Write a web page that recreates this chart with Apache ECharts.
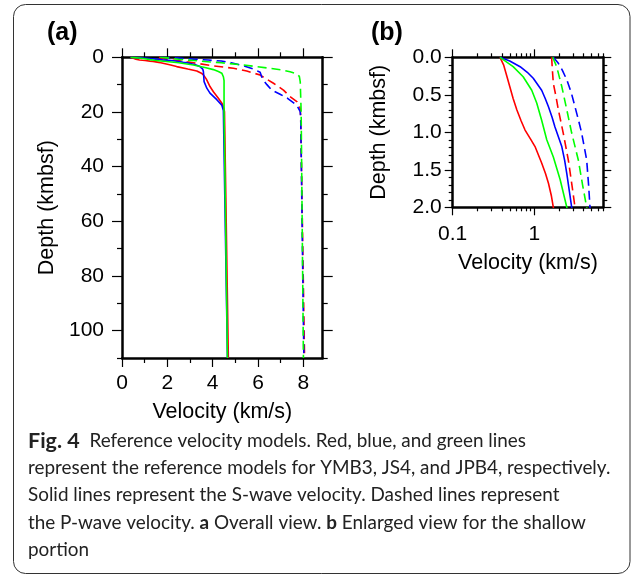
<!DOCTYPE html>
<html>
<head>
<meta charset="utf-8">
<script src="https://cdn.jsdelivr.net/npm/echarts@6.0.0/dist/echarts.min.js"></script>
<style>
  html, body { margin: 0; padding: 0; background: #fff; }
  #myChart { width: 635px; height: 577px; }
</style>
</head>
<body>
<div id="myChart"></div>
<script>
// [velocity (km/s), depth (kmbsf)]
var ymb3S = [[0.38,0],[0.42,0.1],[0.46,0.25],[0.50,0.39],[0.55,0.55],[0.61,0.70],[0.69,0.85],[0.77,0.97],[0.90,1.09],[1.02,1.19],[1.23,1.41],[1.37,1.55],[1.49,1.68],[1.62,1.85],[1.71,2.0],[2.1,2.7],[2.41,3.4],[2.9,4.3],[3.3,5.0],[3.5,5.8],[3.6,6.5],[3.72,8],[3.88,10.7],[4.03,12.6],[4.25,15],[4.42,17],[4.5,19],[4.52,20],[4.69,110]];
var js4S = [[0.38,0],[0.50,0.05],[0.67,0.125],[0.82,0.2],[0.97,0.28],[1.23,0.44],[1.36,0.55],[1.49,0.66],[1.65,0.8],[1.79,0.93],[2.17,1.19],[2.35,1.37],[2.50,1.55],[2.70,1.8],[2.87,2.0],[3.2,2.6],[3.44,3.4],[3.56,4.3],[3.59,5.3],[3.62,8.9],[3.74,11.3],[3.88,13.1],[4.18,15.5],[4.4,17.5],[4.47,19.5],[4.5,20],[4.65,110]];
var jpb4S = [[0.38,0],[0.55,0.125],[0.73,0.26],[0.93,0.44],[1.07,0.61],[1.23,0.84],[1.42,1.10],[1.71,1.33],[2.07,1.63],[2.50,2.0],[3.15,2.8],[3.7,3.8],[4.03,4.5],[4.25,5.2],[4.4,5.8],[4.47,7.1],[4.5,8.5],[4.5,20],[4.65,110]];
var ymb3P = [[1.63,0],[1.66,0.15],[1.71,0.35],[1.84,0.52],[1.97,0.70],[2.26,1.01],[2.61,1.37],[2.87,1.68],[3.15,2.0],[3.9,3.0],[4.91,4.0],[5.5,5.0],[6.09,6.5],[6.68,9.5],[7.12,12],[7.41,14.4],[7.71,16.2],[7.82,17.4],[7.86,19],[7.88,22],[8.05,110]];
var js4P = [[1.71,0],[1.97,0.08],[2.2,0.17],[2.50,0.30],[2.85,0.48],[3.15,0.66],[3.50,0.85],[3.80,1.01],[4.1,1.2],[4.38,1.37],[4.62,1.7],[4.81,2.0],[5.3,3.0],[5.8,4.3],[6.09,5.5],[6.2,8],[6.39,10],[6.6,12],[6.97,13.5],[7.3,15],[7.71,17.5],[7.86,19.9],[7.88,22],[8.02,110]];
var jpb4P = [[1.68,0],[1.88,0.125],[2.17,0.39],[2.50,0.70],[2.87,1.01],[3.46,1.37],[3.9,1.7],[4.38,2.0],[5.35,2.8],[6.5,4],[7.1,4.7],[7.41,5.3],[7.7,6.0],[7.82,7],[7.86,9],[7.9,20],[8.0,110]];

// tick labels
var velTicksA = [0, 2, 4, 6, 8];
var velMinorA = [1, 3, 5, 7];
var depthTicksA = [0, 20, 40, 60, 80, 100];
var depthMinorA = [10, 30, 50, 70, 90, 110];
var velTicksB = [0.1, 1];
var velMinorB = [0.2, 0.3, 0.4, 0.5, 0.6, 0.7, 0.8, 0.9, 2, 3, 4, 5, 6, 7];

var FONT = 'Liberation Sans, Arial, Helvetica, sans-serif';
var CAP_FONT = 'Lato, "Open Sans", sans-serif';
var colors = { ymb3: '#ff0000', js4: '#0000ff', jpb4: '#00ff00' };

var logMax = Math.log10(7);
function log10All(arr) { return arr.map(function (v) { return Math.log10(v); }); }

// one axis; frame line / ticks / labels switched on by what is passed in
function ax(grid, pos, type, min, max, o) {
  o = o || {};
  return {
    gridIndex: grid, position: pos, type: type, min: min, max: max,
    inverse: !!o.inverse,
    interval: o.interval,
    axisLine: { show: !!o.line, onZero: false, lineStyle: { color: '#000', width: 2.5 } },
    axisTick: o.ticks ? { show: true, inside: false, length: o.len, customValues: o.ticks, lineStyle: { color: '#000', width: 1.2 } } : { show: false },
    minorTick: o.minor ? { show: true, splitNumber: o.minor, length: 4, lineStyle: { color: '#000', width: 1.2 } } : { show: false },
    axisLabel: o.label ? Object.assign({ show: true, color: '#000', fontFamily: FONT, fontSize: 21 }, o.label) : { show: false },
    name: o.name || '',
    nameLocation: 'middle',
    nameGap: o.nameGap,
    nameTextStyle: { color: '#000', fontFamily: FONT, fontSize: 21.5 },
    splitLine: { show: false }
  };
}

var xAxes = [
  // (a)
  ax(0, 'bottom', 'value', 0, 8.85, { line: true, ticks: velTicksA, len: 9, label: { customValues: velTicksA, margin: 15 }, name: 'Velocity (km/s)', nameGap: 43 }),
  ax(0, 'bottom', 'value', 0, 8.85, { ticks: velMinorA, len: 5 }),
  ax(0, 'top', 'value', 0, 8.85, { line: true, ticks: velTicksA, len: 9 }),
  ax(0, 'top', 'value', 0, 8.85, { ticks: velMinorA, len: 5 }),
  // (b)
  ax(1, 'bottom', 'log', 0.1, 7, { line: true, label: { margin: 16, showMaxLabel: false }, name: 'Velocity (km/s)', nameGap: 45 }),
  ax(1, 'bottom', 'value', -1, logMax, { ticks: log10All(velTicksB), len: 8 }),
  ax(1, 'bottom', 'value', -1, logMax, { ticks: log10All(velMinorB), len: 4 }),
  ax(1, 'top', 'value', -1, logMax, { line: true, ticks: log10All(velTicksB), len: 8 }),
  ax(1, 'top', 'value', -1, logMax, { ticks: log10All(velMinorB), len: 4 })
];
xAxes[4].logBase = 10;

var yAxes = [
  ax(0, 'left', 'value', 0, 110, { inverse: true, line: true, ticks: depthTicksA, len: 10, label: { customValues: depthTicksA, margin: 18 }, name: 'Depth (kmbsf)', nameGap: 64 }),
  ax(0, 'left', 'value', 0, 110, { inverse: true, ticks: depthMinorA, len: 5 }),
  ax(0, 'right', 'value', 0, 110, { inverse: true, line: true, ticks: depthTicksA, len: 10 }),
  ax(0, 'right', 'value', 0, 110, { inverse: true, ticks: depthMinorA, len: 5 }),
  ax(1, 'left', 'value', 0, 2, { inverse: true, interval: 0.5, line: true, minor: 5, label: { margin: 11, formatter: function (v) { return v.toFixed(1); } }, name: 'Depth (kmbsf)', nameGap: 63 }),
  ax(1, 'right', 'value', 0, 2, { inverse: true, interval: 0.5, line: true, minor: 5 })
];
// (b) left/right use default ticks + minor ticks
[4, 5].forEach(function (i) {
  yAxes[i].axisTick = { show: true, inside: false, length: 8, lineStyle: { color: '#000', width: 1.2 } };
});

var curves = [
  { data: ymb3S, color: colors.ymb3, dash: false },
  { data: ymb3P, color: colors.ymb3, dash: true },
  { data: js4S, color: colors.js4, dash: false },
  { data: js4P, color: colors.js4, dash: true },
  { data: jpb4S, color: colors.jpb4, dash: false },
  { data: jpb4P, color: colors.jpb4, dash: true }
];

var series = [];
[[0, 0], [4, 4]].forEach(function (idx) {
  curves.forEach(function (c) {
    series.push({
      type: 'line',
      xAxisIndex: idx[0],
      yAxisIndex: idx[1],
      data: c.data,
      showSymbol: false,
      symbol: 'none',
      clip: true,
      silent: true,
      lineStyle: { color: c.color, width: 1.6, type: c.dash ? [9, 5] : 'solid' }
    });
  });
});

var captionLines = [
  '{fig|Fig. 4}  Reference velocity models. Red, blue, and green lines',
  'represent the reference models for YMB3, JS4, and JPB4, respectively.',
  'Solid lines represent the S-wave velocity. Dashed lines represent',
  'the P-wave velocity. {b|a} Overall view. {b|b} Enlarged view for the shallow',
  'portion'
];

var chart = echarts.init(document.getElementById('myChart'));
chart.setOption({
  animation: false,
  backgroundColor: '#fff',
  grid: [
    { left: 122, top: 57.3, width: 200.7, height: 300.7, containLabel: false },
    { left: 452.7, top: 57.3, width: 150.6, height: 150, containLabel: false }
  ],
  xAxis: xAxes,
  yAxis: yAxes,
  series: series,
  graphic: [
    { type: 'rect', shape: { x: 13.5, y: 4.5, width: 616.5, height: 569, r: 12 }, style: { fill: 'none', stroke: '#333', lineWidth: 1 }, silent: true },
    { type: 'text', left: 47, top: 21, style: { text: '(a)', fontFamily: FONT, fontSize: 25, fontWeight: 'bold', fill: '#000' } },
    { type: 'text', left: 371, top: 21, style: { text: '(b)', fontFamily: FONT, fontSize: 25, fontWeight: 'bold', fill: '#000' } },
    {
      type: 'text', left: 28, top: 427,
      style: {
        text: captionLines.join('\n'),
        fontFamily: CAP_FONT, fontSize: 18.9, lineHeight: 27.3, fill: '#222',
        rich: {
          fig: { fontFamily: CAP_FONT, fontSize: 21.5, fontWeight: 'bold', lineHeight: 27.3, fill: '#222' },
          b: { fontFamily: CAP_FONT, fontSize: 18.9, fontWeight: 'bold', lineHeight: 27.3, fill: '#222' }
        }
      }
    }
  ]
});
</script>
</body>
</html>
